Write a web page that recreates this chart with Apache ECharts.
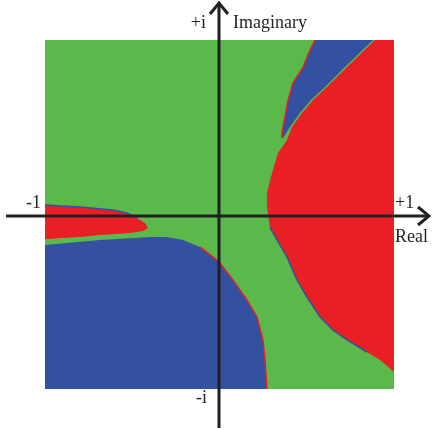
<!DOCTYPE html>
<html>
<head>
<meta charset="utf-8">
<script src="https://cdn.jsdelivr.net/npm/echarts@6/dist/echarts.min.js"></script>
<style>
  html, body { margin: 0; padding: 0; background: #fff; }
  #chart { width: 432px; height: 429px; }
</style>
</head>
<body>
<div id="chart"></div>
<script>
// Basin regions in the complex plane, [re, im] points
const redRight = [
  [0.90, 1.0], [1.0, 1.0], [1.0, -0.903], [0.920, -0.834], [0.845, -0.788],
  [0.731, -0.719], [0.650, -0.662], [0.576, -0.587], [0.501, -0.473],
  [0.444, -0.375], [0.387, -0.244], [0.330, -0.146], [0.289, -0.072],
  [0.272, 0.043], [0.272, 0.123], [0.301, 0.238], [0.335, 0.352],
  [0.387, 0.427], [0.415, 0.501], [0.473, 0.582], [0.536, 0.656],
  [0.616, 0.731], [0.731, 0.845], [0.891, 1.0]
];
const blueTop = [
  [0.358, 0.438], [0.358, 0.467], [0.375, 0.559], [0.393, 0.656],
  [0.421, 0.754], [0.479, 0.845], [0.519, 0.943], [0.547, 1.0],
  [0.880, 1.0], [0.719, 0.845], [0.605, 0.731], [0.524, 0.656],
  [0.461, 0.582], [0.404, 0.501], [0.364, 0.438]
];
const blueBottom = [
  [-1.0, -0.175], [-0.685, -0.146], [-0.398, -0.129], [-0.301, -0.129],
  [-0.209, -0.146], [-0.112, -0.186], [-0.037, -0.244], [0.003, -0.278],
  [0.077, -0.375], [0.158, -0.490], [0.215, -0.587], [0.249, -0.719],
  [0.261, -0.834], [0.272, -1.0], [-1.0, -1.0]
];
const redLobe = [
  [-1.0, 0.054], [-0.799, 0.043], [-0.610, 0.026], [-0.530, 0.009],
  [-0.473, -0.020], [-0.427, -0.049], [-0.410, -0.077], [-0.438, -0.095],
  [-0.513, -0.106], [-0.685, -0.117], [-0.799, -0.129], [-1.0, -0.140]
];

const GREEN = '#5bb94b';
const RED = '#ea1e25';
const BLUE = '#3451a1';
const INK = '#231f20';

const regions = [
  { pts: redRight, color: RED },
  { pts: blueTop, color: BLUE },
  { pts: blueBottom, color: BLUE },
  { pts: redLobe, color: RED }
];

// thin fringes along some boundaries
const fringes = [
  { pts: blueTop.slice(0, 8), color: RED },
  { pts: blueBottom.slice(5, 14), color: RED },
  { pts: redRight.slice(4, 13), color: BLUE },
  { pts: redLobe.slice(0, 5), color: BLUE }
];

const chart = echarts.init(document.getElementById('chart'));

const fringeSeries = fringes.map(f => ({
  type: 'line',
  data: f.pts,
  showSymbol: false,
  silent: true,
  z: 3,
  lineStyle: { color: f.color, width: 1.5 }
}));

chart.setOption({
  animation: false,
  grid: { left: 45, top: 40, width: 349, height: 349 },
  xAxis: { type: 'value', min: -1, max: 1, show: false },
  yAxis: { type: 'value', min: -1, max: 1, show: false },
  series: [
    {
      type: 'custom',
      silent: true,
      z: 1,
      data: [0],
      renderItem: (params, api) => {
        const tl = api.coord([-1, 1]);
        const br = api.coord([1, -1]);
        return {
          type: 'rect',
          shape: { x: tl[0], y: tl[1], width: br[0] - tl[0], height: br[1] - tl[1] },
          style: { fill: GREEN }
        };
      }
    },
    {
      type: 'custom',
      silent: true,
      z: 2,
      data: regions.map((r, i) => i),
      renderItem: (params, api) => {
        const r = regions[params.dataIndex];
        return {
          type: 'polygon',
          shape: { points: r.pts.map(p => api.coord(p)) },
          style: { fill: r.color }
        };
      }
    },
    ...fringeSeries
  ],
  graphic: [
    // real axis with arrow
    { type: 'line', shape: { x1: 6, y1: 216, x2: 429, y2: 216 }, style: { stroke: INK, lineWidth: 3 }, z: 10 },
    { type: 'polyline', shape: { points: [[418, 207], [429, 216], [418, 225]] }, style: { stroke: INK, lineWidth: 3, fill: null }, z: 10 },
    // imaginary axis with arrow
    { type: 'line', shape: { x1: 219, y1: 428, x2: 219, y2: 3 }, style: { stroke: INK, lineWidth: 3 }, z: 10 },
    { type: 'polyline', shape: { points: [[210, 14], [219, 3], [228, 14]] }, style: { stroke: INK, lineWidth: 3, fill: null }, z: 10 },
    // labels
    { type: 'text', x: 206, y: 32, style: { text: '+i', fill: INK, font: '18px "Liberation Serif"', textAlign: 'right', textVerticalAlign: 'bottom' }, z: 10 },
    { type: 'text', x: 233, y: 32, style: { text: 'Imaginary', fill: INK, font: '18px "Liberation Serif"', textAlign: 'left', textVerticalAlign: 'bottom' }, z: 10 },
    { type: 'text', x: 41, y: 212, style: { text: '-1', fill: INK, font: '18px "Liberation Serif"', textAlign: 'right', textVerticalAlign: 'bottom' }, z: 10 },
    { type: 'text', x: 395, y: 212, style: { text: '+1', fill: INK, font: '18px "Liberation Serif"', textAlign: 'left', textVerticalAlign: 'bottom' }, z: 10 },
    { type: 'text', x: 395, y: 246, style: { text: 'Real', fill: INK, font: '18px "Liberation Serif"', textAlign: 'left', textVerticalAlign: 'bottom' }, z: 10 },
    { type: 'text', x: 207, y: 407, style: { text: '-i', fill: INK, font: '18px "Liberation Serif"', textAlign: 'right', textVerticalAlign: 'bottom' }, z: 10 }
  ]
});
</script>
</body>
</html>
